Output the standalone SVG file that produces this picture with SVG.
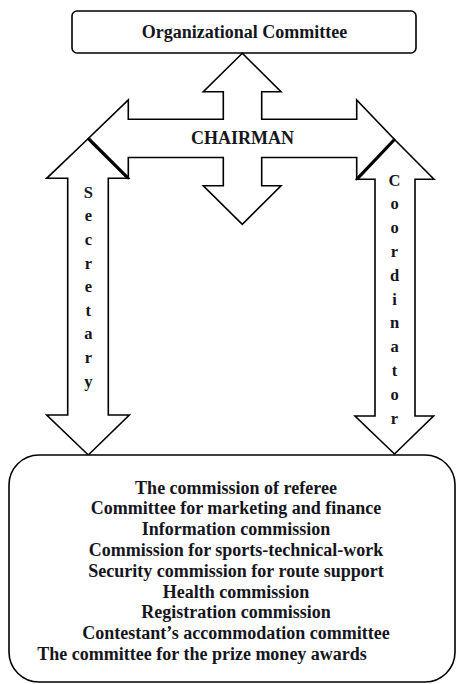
<svg xmlns="http://www.w3.org/2000/svg" width="456" height="684" viewBox="0 0 456 684">
<style>
.shape{fill:#fff;stroke:#000;stroke-width:1.6;stroke-linejoin:miter}
.thick{stroke:#000;stroke-width:3.2;fill:none}
.t{font-family:"Liberation Serif","Times New Roman",serif;font-weight:bold;fill:#151520}
.big{font-size:18px;text-anchor:middle}
.list{font-size:18px;text-anchor:middle}
.vert{font-size:16.5px;text-anchor:middle}
</style>
<rect x="0" y="0" width="456" height="684" fill="#fff"/>
<g id="organizational-committee">
<rect class="shape" x="72" y="11" width="344" height="42" rx="5"/>
<text class="t big" x="244.5" y="38">Organizational Committee</text>
</g>
<g id="connectors">
<g id="secretary">
<polygon class="shape" points="88.3,138.5 128.6,178.3 108.3,178.3 108.3,415 129.3,415 88.3,455 46.7,415 67.7,415 67.7,178.3 46.7,178.3"/>
<text class="t vert" y="197.7"><tspan x="88.3">S</tspan><tspan x="88.3" dy="23.6">e</tspan><tspan x="88.3" dy="23.6">c</tspan><tspan x="88.3" dy="23.6">r</tspan><tspan x="88.3" dy="23.6">e</tspan><tspan x="88.3" dy="23.6">t</tspan><tspan x="88.3" dy="23.6">a</tspan><tspan x="88.3" dy="23.6">r</tspan><tspan x="88.3" dy="23.6">y</tspan></text>
</g>
<g id="coordinator">
<polygon class="shape" points="394.5,139.5 434,179.3 415,179.3 415,416 433.5,416 394.5,454 355,416 375,416 375,179.3 356.7,179.3"/>
<text class="t vert" y="185.5"><tspan x="394.5">C</tspan><tspan x="394.5" dy="23.8">o</tspan><tspan x="394.5" dy="23.8">o</tspan><tspan x="394.5" dy="23.8">r</tspan><tspan x="394.5" dy="23.8">d</tspan><tspan x="394.5" dy="23.8">i</tspan><tspan x="394.5" dy="23.8">n</tspan><tspan x="394.5" dy="23.8">a</tspan><tspan x="394.5" dy="23.8">t</tspan><tspan x="394.5" dy="23.8">o</tspan><tspan x="394.5" dy="23.8">r</tspan></text>
</g>
</g>
<g id="chairman">
<polygon class="shape" points="242.3,53.3 281,91.7 261.7,91.7 261.7,119.3 356.7,119.3 356.7,100 394.5,139.5 356.7,179 356.7,157.5 261.7,157.5 261.7,185.7 281,185.7 242.3,224.3 203.3,185.7 223.3,185.7 223.3,157.5 128.3,157.5 128.3,178 88.3,138.5 128.3,100 128.3,119.3 223.3,119.3 223.3,91.7 203.3,91.7"/>
<text class="t big" x="242.5" y="143.5">CHAIRMAN</text>
</g>
<line class="thick" x1="88.8" y1="139" x2="128.3" y2="178.3"/>
<line class="thick" x1="356.7" y1="179.3" x2="394" y2="140"/>
<g id="commissions">
<rect class="shape" x="9" y="455" width="446" height="227" rx="30"/>
<text class="t list" x="236" y="493.5">The commission of referee</text>
<text class="t list" x="236" y="514.3">Committee for marketing and finance</text>
<text class="t list" x="236" y="535.1">Information commission</text>
<text class="t list" x="236" y="555.9">Commission for sports-technical-work</text>
<text class="t list" x="236" y="576.7">Security commission for route support</text>
<text class="t list" x="236" y="597.5">Health commission</text>
<text class="t list" x="236" y="618.3">Registration commission</text>
<text class="t list" x="236" y="639.1">Contestant’s accommodation committee</text>
<text class="t list" x="37.3" y="659.9" style="text-anchor:start">The committee for the prize money awards</text>
</g>
</svg>
